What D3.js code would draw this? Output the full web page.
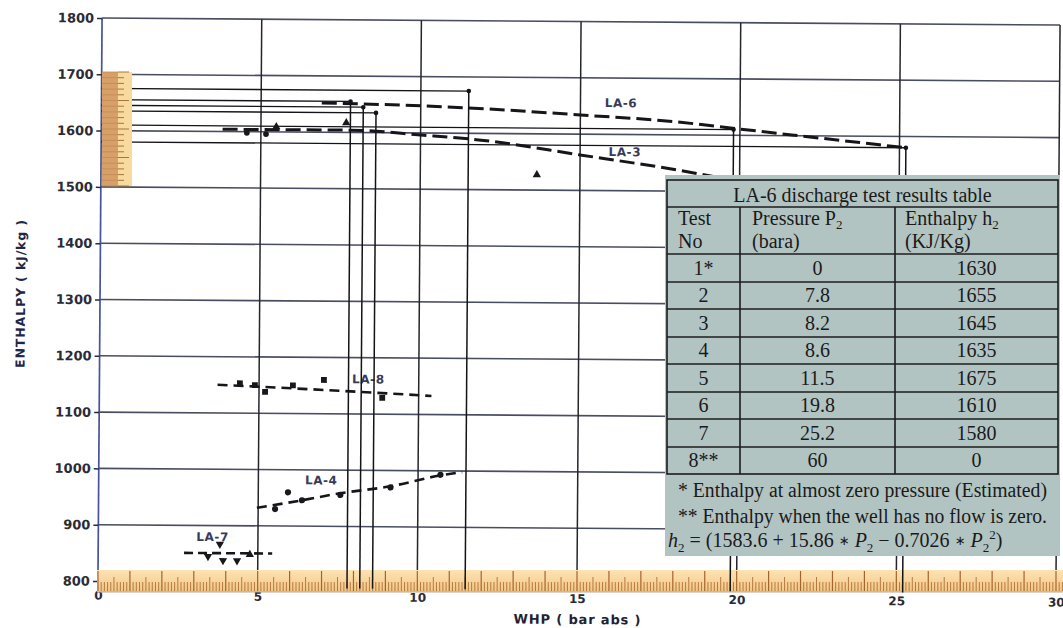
<!DOCTYPE html>
<html>
<head>
<meta charset="utf-8">
<script src="https://cdn.jsdelivr.net/npm/d3@7"></script>
<style>
  html, body { margin: 0; padding: 0; background: #ffffff; }
  svg { display: block; }
</style>
</head>
<body>
<svg id="chart" width="1063" height="628"></svg>
<script>
// Axis ticks
const yTicks = [800, 900, 1000, 1100, 1200, 1300, 1400, 1500, 1600, 1700, 1800];
const xTicks = [0, 5, 10, 15, 20, 25, 30];

// Well characteristic curves: [WHP (bar abs), enthalpy (kJ/kg)]
const la6Curve = [[6.9, 1652], [8, 1651], [11.5, 1645], [15, 1634], [18, 1623], [20, 1611], [25.2, 1580]];
const la3Curve = [[3.8, 1604], [7.8, 1604], [10.1, 1596], [11.9, 1588], [15, 1563], [18.1, 1537], [20, 1518]];
const la8Curve = [[3.7, 1150], [5.5, 1146], [7.5, 1141], [9, 1137], [10.4, 1133]];
const la4Curve = [[4.96, 932], [6.37, 946], [7.57, 959], [9.14, 972], [10.7, 992], [11.38, 998]];
const la7Curve = [[2.69, 851], [5.45, 851]];

// Measured points per well
const la3Dots = [[4.56, 1598], [5.16, 1596]];
const la3Triangles = [[5.48, 1609], [7.67, 1617], [13.65, 1527]];
const la8Squares = [[4.40, 1153], [4.87, 1150], [5.19, 1138], [6.06, 1150], [7.03, 1160], [8.86, 1129]];
const la4Dots = [[5.53, 930], [5.93, 960], [6.37, 946], [7.57, 956], [9.14, 970], [10.7, 993]];
const la7Down = [[3.81, 867], [3.44, 845], [3.91, 838], [4.35, 838]];
const la7Up = [[4.75, 849]];

// Curve labels: [name, WHP, enthalpy]
const wellLabels = [["LA-6", 16.27, 1656], ["LA-3", 16.4, 1569], ["LA-8", 8.42, 1162], ["LA-4", 6.97, 982], ["LA-7", 3.58, 880]];

// LA-6 discharge test table
const testNo = ["1*", "2", "3", "4", "5", "6", "7", "8**"];
const pressure = [0, 7.8, 8.2, 8.6, 11.5, 19.8, 25.2, 60];
const enthalpy = [1630, 1655, 1645, 1635, 1675, 1610, 1580, 0];

const svg = d3.select("#chart");

const x = d3.scaleLinear().domain([0, 30]).range([100, 1058]);
const y = d3.scaleLinear().domain([800, 1800]).range([584.5, 21.5]);
const tilt = "rotate(0.42,579,303)";
const sans = "'DejaVu Sans', sans-serif";
const serif = "'Liberation Serif', 'Times New Roman', serif";

// ---------- plot frame, grid and curves ----------
const plot = svg.append("g").attr("transform", tilt);

plot.append("g").selectAll("line").data(yTicks).join("line")
  .attr("x1", x(0)).attr("x2", x(30))
  .attr("y1", d => y(d)).attr("y2", d => y(d))
  .attr("stroke", "#4a4c62").attr("stroke-width", 1.6);

plot.append("g").selectAll("line").data(xTicks.filter(d => d > 0)).join("line")
  .attr("x1", d => x(d)).attr("x2", d => x(d))
  .attr("y1", y(1800)).attr("y2", y(800))
  .attr("stroke", "#25252e").attr("stroke-width", 1.5);

plot.append("line")
  .attr("x1", x(0)).attr("x2", x(0)).attr("y1", y(1800)).attr("y2", y(800))
  .attr("stroke", "#4752a0").attr("stroke-width", 1.7);

const yAxis = plot.append("g").attr("transform", `translate(${x(0)},0)`)
  .call(d3.axisLeft(y).tickValues(yTicks).tickSize(5).tickPadding(3).tickFormat(d3.format("d")));
yAxis.select(".domain").remove();
yAxis.selectAll(".tick line").attr("stroke", "#2a2a38").attr("stroke-width", 1.5);
yAxis.selectAll(".tick text")
  .attr("font-family", sans).attr("font-weight", "bold").attr("font-size", 13)
  .attr("fill", "#2b2b36");

const xAxis = plot.append("g").attr("transform", `translate(0,${y(800)})`)
  .call(d3.axisBottom(x).tickValues(xTicks).tickSize(0).tickPadding(10).tickFormat(d3.format("d")));
xAxis.select(".domain").remove();
xAxis.selectAll(".tick text")
  .attr("font-family", sans).attr("font-weight", "bold").attr("font-size", 12)
  .attr("fill", "#2b2b36");

plot.append("text")
  .attr("transform", "translate(25,298) rotate(-90)")
  .attr("text-anchor", "middle")
  .attr("font-family", sans).attr("font-weight", "bold").attr("font-size", 12.5)
  .attr("fill", "#1f2748")
  .attr("textLength", 148).attr("lengthAdjust", "spacing")
  .text("ENTHALPY ( kJ/kg )");

plot.append("text")
  .attr("x", 579.4).attr("y", 624)
  .attr("text-anchor", "middle")
  .attr("font-family", sans).attr("font-weight", "bold").attr("font-size", 13)
  .attr("fill", "#1f2230")
  .attr("textLength", 127).attr("lengthAdjust", "spacing")
  .text("WHP ( bar abs )");

const line = d3.line().x(d => x(d[0])).y(d => y(d[1])).curve(d3.curveMonotoneX);
const curveStyles = [
  [la6Curve, 3.0, "15,6"],
  [la3Curve, 3.0, "15,6"],
  [la8Curve, 2.6, "10,6"],
  [la4Curve, 2.6, "10,6"],
  [la7Curve, 2.6, "9,5"]
];
plot.append("g").selectAll("path").data(curveStyles).join("path")
  .attr("d", d => line(d[0]))
  .attr("fill", "none").attr("stroke", "#15151a")
  .attr("stroke-width", d => d[1]).attr("stroke-dasharray", d => d[2]);

function markers(data, type, size, rot) {
  plot.append("g").selectAll("path").data(data).join("path")
    .attr("d", d3.symbol().type(type).size(size))
    .attr("transform", d => `translate(${x(d[0])},${y(d[1])}) rotate(${rot})`)
    .attr("fill", "#17171c");
}
markers(la3Dots, d3.symbolCircle, 26, 0);
markers(la3Triangles, d3.symbolTriangle, 30, 0);
markers(la8Squares, d3.symbolSquare, 34, 0);
markers(la4Dots, d3.symbolCircle, 30, 0);
markers(la7Down, d3.symbolTriangle, 30, 180);
markers(la7Up, d3.symbolTriangle, 30, 0);

plot.append("g").selectAll("text").data(wellLabels).join("text")
  .attr("x", d => x(d[1])).attr("y", d => y(d[2]))
  .attr("dy", "0.36em").attr("text-anchor", "middle")
  .attr("font-family", sans).attr("font-weight", "bold").attr("font-size", 12)
  .attr("letter-spacing", 0.6).attr("fill", "#363c5a")
  .text(d => d[0]);

// ---------- horizontal scale strip along the pressure axis ----------
const strip = svg.append("g");
const defs = svg.append("defs");
const g1 = defs.append("linearGradient").attr("id", "stripFill").attr("x1", 0).attr("x2", 0).attr("y1", 0).attr("y2", 1);
g1.append("stop").attr("offset", "0%").attr("stop-color", "#fde3b3");
g1.append("stop").attr("offset", "100%").attr("stop-color", "#f3c684");
strip.append("rect").attr("x", 97).attr("y", 570).attr("width", 966).attr("height", 22)
  .attr("fill", "url(#stripFill)");
strip.append("line").attr("x1", 97).attr("x2", 1063).attr("y1", 592).attr("y2", 592)
  .attr("stroke", "#b9a89a").attr("stroke-width", 1);
const stripTicks = d3.range(0, 301).map(i => i / 10).concat([30.1, 30.2]);
strip.append("g").selectAll("line").data(stripTicks).join("line")
  .attr("x1", d => x(d) - 2).attr("x2", d => x(d) - 2)
  .attr("y1", (d, i) => (i % 10 === 0 ? 571 : i % 5 === 0 ? 577 : 582))
  .attr("y2", 591)
  .attr("stroke", "#a4652c")
  .attr("stroke-width", (d, i) => (i % 10 === 0 ? 1.2 : 0.8));

// ---------- LA-6 test points with guide lines ----------
const pts = testNo.map((t, i) => ({ t, p: pressure[i], h: enthalpy[i] }))
  .filter(d => d.p > 0 && d.p <= 30 && d.h >= 800);
const guides = svg.append("g").attr("transform", tilt);
guides.selectAll(".hz").data(pts).join("line")
  .attr("x1", x(0)).attr("x2", d => x(d.p))
  .attr("y1", d => y(d.h)).attr("y2", d => y(d.h))
  .attr("stroke", "#141418").attr("stroke-width", 1.3);
guides.selectAll(".vt").data(pts).join("line")
  .attr("x1", d => x(d.p)).attr("x2", d => x(d.p))
  .attr("y1", d => y(d.h)).attr("y2", y(790))
  .attr("stroke", "#141418").attr("stroke-width", 1.5);
guides.selectAll("circle").data(pts).join("circle")
  .attr("cx", d => x(d.p)).attr("cy", d => y(d.h)).attr("r", 2.3)
  .attr("fill", "#141418");

// ---------- vertical scale strip along the enthalpy axis ----------
const vstrip = svg.append("g");
vstrip.append("rect").attr("x", 102).attr("y", 72).attr("width", 16).attr("height", 114).attr("fill", "#d6a068");
vstrip.append("rect").attr("x", 118).attr("y", 72).attr("width", 14).attr("height", 114).attr("fill", "#f8d99e");
const vTicks = d3.range(0, 21);
vstrip.append("g").selectAll("line").data(vTicks).join("line")
  .attr("x1", 102).attr("x2", 118)
  .attr("y1", d => 72 + d * 5.7).attr("y2", d => 72 + d * 5.7)
  .attr("stroke", "#c08a55").attr("stroke-width", 0.8);
vstrip.append("g").selectAll("line").data(vTicks).join("line")
  .attr("x1", 118).attr("x2", d => (d % 5 === 0 ? 129 : 124))
  .attr("y1", d => 72 + d * 5.7).attr("y2", d => 72 + d * 5.7)
  .attr("stroke", "#9c6a34").attr("stroke-width", 0.9);

// ---------- results table ----------
const tbl = svg.append("g");
const colEdges = [667, 740, 895, 1058];
const rowEdges = [180, 207, 254, 282, 309, 337, 364, 392, 419, 447, 474];
tbl.append("rect").attr("x", 665).attr("y", 175).attr("width", 395).attr("height", 381).attr("fill", "#b2c4c2");
tbl.append("rect").attr("x", colEdges[0]).attr("y", rowEdges[0])
  .attr("width", colEdges[3] - colEdges[0]).attr("height", rowEdges[10] - rowEdges[0])
  .attr("fill", "none").attr("stroke", "#1c1c1c").attr("stroke-width", 1.6);
tbl.append("g").selectAll("line").data(rowEdges.slice(1, 10)).join("line")
  .attr("x1", colEdges[0]).attr("x2", colEdges[3]).attr("y1", d => d).attr("y2", d => d)
  .attr("stroke", "#1c1c1c").attr("stroke-width", 1.6);
tbl.append("g").selectAll("line").data(colEdges.slice(1, 3)).join("line")
  .attr("x1", d => d).attr("x2", d => d).attr("y1", rowEdges[1]).attr("y2", rowEdges[10])
  .attr("stroke", "#1c1c1c").attr("stroke-width", 1.6);

function ttext(xp, yp, anchor) {
  return tbl.append("text").attr("x", xp).attr("y", yp).attr("text-anchor", anchor || "start")
    .attr("font-family", serif).attr("font-size", 20).attr("fill", "#1a1a1a");
}
ttext(862.5, 202, "middle").text("LA-6 discharge test results table");
ttext(678, 225).text("Test");
ttext(678, 248).text("No");
const hp = ttext(752, 225);
hp.append("tspan").text("Pressure P");
hp.append("tspan").attr("font-size", 13).attr("dy", 4).text("2");
ttext(752, 248).text("(bara)");
const he = ttext(905, 225);
he.append("tspan").text("Enthalpy h");
he.append("tspan").attr("font-size", 13).attr("dy", 4).text("2");
ttext(905, 248).text("(KJ/Kg)");

const cellCx = [703.5, 817.5, 976.5];
testNo.forEach((t, i) => {
  const base = rowEdges[i + 3] - 7;
  ttext(cellCx[0], base, "middle").text(t);
  ttext(cellCx[1], base, "middle").text(String(pressure[i]));
  ttext(cellCx[2], base, "middle").text(String(enthalpy[i]));
});

ttext(862.5, 497, "middle").attr("textLength", 369).attr("lengthAdjust", "spacingAndGlyphs")
  .text("* Enthalpy at almost zero pressure (Estimated)");
ttext(862.5, 523, "middle").attr("textLength", 369).attr("lengthAdjust", "spacingAndGlyphs")
  .text("** Enthalpy when the well has no flow is zero.");

// Quadratic fit of enthalpy against pressure
const fx = tbl.append("text").attr("x", 668).attr("y", 547)
  .attr("font-family", serif).attr("font-size", 20).attr("fill", "#1a1a1a");
const star = () => fx.append("tspan").attr("font-family", sans).attr("font-size", 13).attr("dy", -2).text("\u2217");
fx.append("tspan").attr("font-style", "italic").text("h");
fx.append("tspan").attr("font-size", 13).attr("dy", 5).text("2");
fx.append("tspan").attr("dy", -5).text(" = (1583.6 + 15.86 ");
star();
fx.append("tspan").attr("dy", 2).text(" ");
fx.append("tspan").attr("font-style", "italic").text("P");
fx.append("tspan").attr("font-size", 13).attr("dy", 5).text("2");
fx.append("tspan").attr("dy", -5).text(" \u2212 0.7026 ");
star();
fx.append("tspan").attr("dy", 2).text(" ");
fx.append("tspan").attr("font-style", "italic").text("P");
fx.append("tspan").attr("font-size", 13).attr("dy", 5).text("2");
fx.append("tspan").attr("font-size", 13).attr("dy", -13).text("2");
fx.append("tspan").attr("dy", 8).text(")");
</script>
</body>
</html>
